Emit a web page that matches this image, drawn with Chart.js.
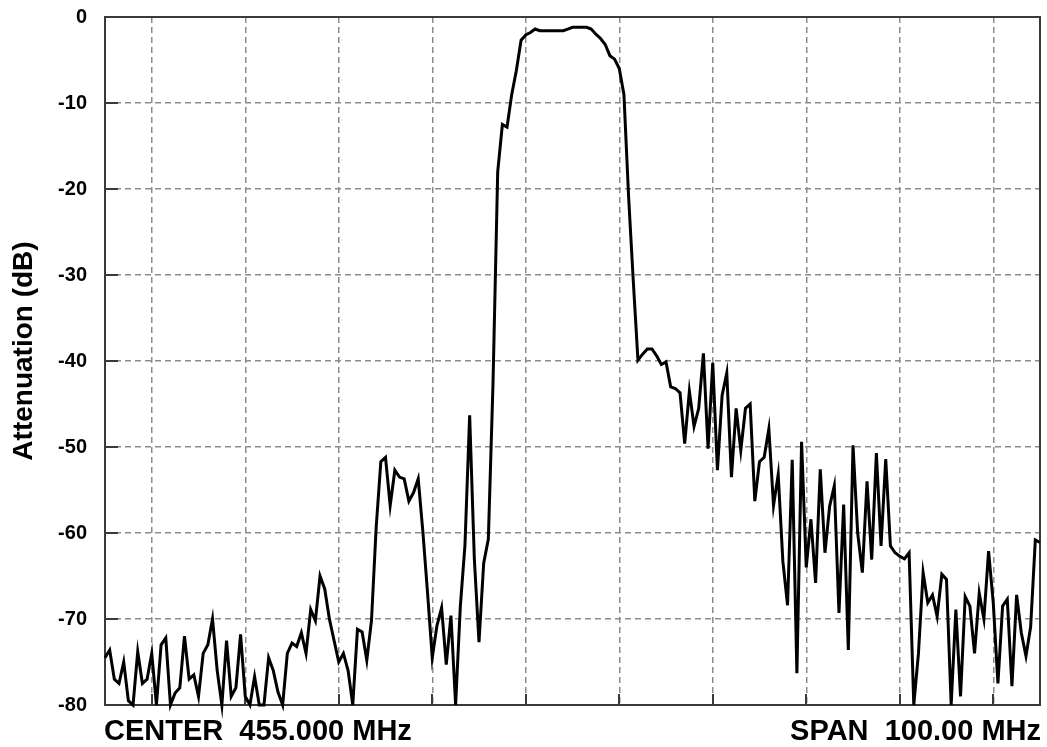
<!DOCTYPE html>
<html>
<head>
<meta charset="utf-8">
<script src="https://cdn.jsdelivr.net/npm/chart.js@4/dist/chart.umd.min.js"></script>
<style>
    html, body { margin: 0; padding: 0; background: #fff; }
    .container { position: relative; width: 1047px; height: 747px; }
</style>
</head>
<body>
<div class="container"><canvas id="chart" width="1047" height="747"></canvas></div>
<script>
// sweep: center 455 MHz, span 100 MHz, 0.5 MHz per point
let startMHz = 405
let stepMHz = 0.5

let attenuationDb = [
    -74.5, -73.6, -77, -77.5, -75, -79.5, -80, -73.8, -77.5, -77,
    -74, -80, -73, -72.2, -80, -78.6, -78, -72, -77, -76.5,
    -79, -74, -73, -70, -76, -80, -72.5, -79, -78, -71.8,
    -79, -80, -76.7, -80, -80, -74.5, -76, -78.5, -80, -74,
    -72.8, -73.2, -71.6, -74, -68.9, -70.2, -65, -66.5, -70, -72.5,
    -75, -74, -76, -80, -71.2, -71.5, -74.8, -70.2, -59.4, -51.7,
    -51.2, -56.8, -52.7, -53.5, -53.7, -56.3, -55.3, -53.7, -59.9, -67,
    -74.5, -70.8, -68.7, -75.3, -69.6, -80, -68.6, -61.4, -46.3, -63,
    -72.7, -63.5, -60.7, -42.5, -18, -12.5, -12.8, -9, -6.2, -2.7,
    -2.1, -1.8, -1.4, -1.6, -1.6, -1.6, -1.6, -1.6, -1.6, -1.4,
    -1.2, -1.2, -1.2, -1.2, -1.4, -2, -2.5, -3.2, -4.5, -4.9,
    -6, -9, -20.9, -30.7, -39.9, -39.2, -38.6, -38.6, -39.4, -40.4,
    -40.1, -43, -43.2, -43.7, -49.6, -43.5, -47.6, -45.5, -39.1, -50.2,
    -40.2, -52.7, -44, -41.4, -53.5, -45.5, -50.4, -45.5, -45, -56.3,
    -51.7, -51.2, -47.9, -56.8, -53.2, -63.3, -68.4, -51.5, -76.3, -49.4,
    -64, -58.4, -65.8, -52.6, -62.3, -56.9, -54.5, -69.3, -56.7, -73.6,
    -49.8, -60, -64.6, -54, -63.1, -50.7, -61.5, -51.4, -61.5, -62.3,
    -62.7, -63, -62.3, -80, -74, -64.6, -68.1, -67.2, -69.7, -64.8,
    -65.4, -80, -68.9, -79, -67.4, -68.5, -74, -67, -70, -62.1,
    -68.1, -77.5, -68.5, -67.7, -77.8, -67.2, -71.6, -74.3, -70.9, -60.8,
    -61.1
]

let xGridMHz = [410, 420, 430, 440, 450, 460, 470, 480, 490, 500]
let yTicks = [0, -10, -20, -30, -40, -50, -60, -70, -80]
let yTickLabels = ['0', '-10', '-20', '-30', '-40', '-50', '-60', '-70', '-80']
let yTitle = 'Attenuation (dB)'
let centerText = 'CENTER  455.000 MHz'
let spanText = 'SPAN  100.00 MHz'

let fontFamily = '"Liberation Sans", Arial, sans-serif'

let frame = {
    id: 'frame',
    beforeDatasetsDraw(chart) {
        let ctx = chart.ctx
        let a = chart.chartArea
        let x = chart.scales.x
        let y = chart.scales.y
        ctx.save()
        ctx.strokeStyle = '#3a3a3a'
        ctx.lineWidth = 2
        ctx.strokeRect(a.left, a.top, a.right - a.left, a.bottom - a.top)
        ctx.beginPath()
        for (let i = 1; i < yTicks.length - 1; i++) {
            let py = Math.round(y.getPixelForValue(yTicks[i]))
            ctx.moveTo(a.left, py)
            ctx.lineTo(a.left + 13, py)
        }
        for (let i = 0; i < xGridMHz.length; i++) {
            let px = Math.round(x.getPixelForValue(xGridMHz[i]))
            ctx.moveTo(px, a.bottom)
            ctx.lineTo(px, a.bottom - 11)
        }
        ctx.stroke()
        ctx.restore()
    },
    afterDraw(chart) {
        let ctx = chart.ctx
        let a = chart.chartArea
        ctx.save()
        ctx.fillStyle = '#000'
        ctx.font = 'bold 29px ' + fontFamily
        ctx.textBaseline = 'alphabetic'
        ctx.textAlign = 'left'
        ctx.fillText(centerText, a.left - 1, 740)
        ctx.textAlign = 'right'
        ctx.fillText(spanText, a.right + 1, 740)

        // axis title, rotated
        ctx.font = 'bold 28px ' + fontFamily
        ctx.translate(24, 351)
        ctx.rotate(-Math.PI / 2)
        ctx.textAlign = 'center'
        ctx.textBaseline = 'middle'
        ctx.fillText(yTitle, 0, 0)
        ctx.restore()
    }
}

function main() {
    let points = []
    for (let i = 0; i < attenuationDb.length; i++) {
        points.push({ x: startMHz + i * stepMHz, y: attenuationDb[i] })
    }

    let ctx = document.getElementById('chart').getContext('2d')
    new Chart(ctx, {
        type: 'line',
        data: {
            datasets: [{
                data: points,
                borderColor: '#000',
                borderWidth: 3,
                pointRadius: 0,
                tension: 0,
                fill: false,
                clip: false
            }]
        },
        options: {
            responsive: false,
            animation: false,
            layout: { padding: { top: 17, right: 7, left: 0, bottom: 0 } },
            plugins: { legend: { display: false }, tooltip: { enabled: false } },
            scales: {
                x: {
                    type: 'linear',
                    min: startMHz,
                    max: startMHz + 100,
                    afterBuildTicks: s => { s.ticks = xGridMHz.map(v => ({ value: v })) },
                    afterFit: s => { s.height = 42; s.paddingLeft = 0; s.paddingRight = 0 },
                    ticks: { display: false },
                    grid: { color: '#8c8c8c', lineWidth: 1.5, drawTicks: false },
                    border: { display: false, dash: [6, 4] }
                },
                y: {
                    min: -80,
                    max: 0,
                    afterBuildTicks: s => { s.ticks = yTicks.map(v => ({ value: v })) },
                    afterFit: s => { s.width = 105; s.paddingTop = 0; s.paddingBottom = 0 },
                    ticks: {
                        color: '#000',
                        padding: 18,
                        font: { family: fontFamily, size: 20, weight: 'bold' },
                        callback: (v, i) => yTickLabels[i]
                    },
                    grid: { color: '#8c8c8c', lineWidth: 1.5, drawTicks: false },
                    border: { display: false, dash: [6, 4] }
                }
            }
        },
        plugins: [frame]
    })
}

main()
</script>
</body>
</html>
